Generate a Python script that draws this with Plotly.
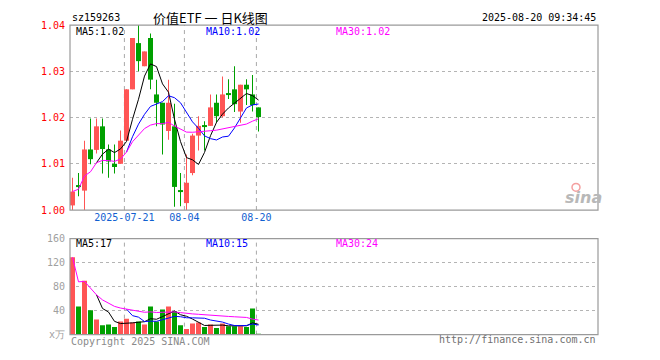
import plotly.graph_objects as go

# ---------------- data ----------------
dates = ["2025-07-08", "2025-07-09", "2025-07-10", "2025-07-11", "2025-07-14",
         "2025-07-15", "2025-07-16", "2025-07-17", "2025-07-18", "2025-07-21",
         "2025-07-22", "2025-07-23", "2025-07-24", "2025-07-25", "2025-07-28",
         "2025-07-29", "2025-07-30", "2025-07-31", "2025-08-01", "2025-08-04",
         "2025-08-05", "2025-08-06", "2025-08-07", "2025-08-08", "2025-08-11",
         "2025-08-12", "2025-08-13", "2025-08-14", "2025-08-15", "2025-08-18",
         "2025-08-19", "2025-08-20"]
opens = [1.0010, 1.0052, 1.0042, 1.0131, 1.0130, 1.0181, 1.0131, 1.0100,
         1.0100, 1.0150, 1.0261, 1.0361, 1.0311, 1.0372, 1.0250, 1.0232,
         1.0171, 1.0181, 1.0043, 1.0015, 1.0080, 1.0161, 1.0182, 1.0182,
         1.0232, 1.0203, 1.0251, 1.0261, 1.0213, 1.0271, 1.0250, 1.0222]
closes = [1.0040, 1.0050, 1.0131, 1.0110, 1.0181, 1.0132, 1.0105, 1.0093,
          1.0150, 1.0261, 1.0372, 1.0322, 1.0343, 1.0282, 1.0232, 1.0185,
          1.0232, 1.0050, 1.0041, 1.0059, 1.0161, 1.0182, 1.0180, 1.0222,
          1.0203, 1.0250, 1.0249, 1.0229, 1.0271, 1.0261, 1.0227, 1.0201]
highs = [1.0070, 1.0080, 1.0150, 1.0198, 1.0198, 1.0198, 1.0142, 1.0142,
         1.0172, 1.0261, 1.0372, 1.0401, 1.0343, 1.0382, 1.0282, 1.0232,
         1.0282, 1.0230, 1.0080, 1.0120, 1.0165, 1.0203, 1.0192, 1.0250,
         1.0250, 1.0289, 1.0283, 1.0311, 1.0271, 1.0283, 1.0292, 1.0222]
lows = [1.0000, 1.0030, 1.0000, 1.0099, 1.0122, 1.0079, 1.0070, 1.0079,
        1.0100, 1.0150, 1.0261, 1.0300, 1.0311, 1.0261, 1.0181, 1.0120,
        1.0152, 1.0007, 1.0008, 1.0000, 1.0075, 1.0129, 1.0129, 1.0182,
        1.0189, 1.0200, 1.0240, 1.0212, 1.0189, 1.0227, 1.0213, 1.0170]
volumes = [129, 47, 90, 40.5, 25, 15.6, 17, 12.5, 22, 26.5, 20, 22, 17, 47,
           22, 42, 47, 39, 15.6, 9.4, 18.7, 20, 12.5, 17, 11, 18.7, 14, 14,
           14, 12.5, 43.6, 1.6]
marked_dates = ["2025-07-21", "2025-08-04", "2025-08-20"]
marked_labels = ["2025-07-21", "08-04", "08-20"]
price_ticks = [1.00, 1.01, 1.02, 1.03, 1.04]
vol_ticks = [0, 40, 80, 120, 160]
vol_tick_text = ["x万", "40", "80", "120", "160"]
code_text = "sz159263"
title_text = "价值ETF 一 日K线图"
time_text = "2025-08-20 09:34:45"
price_ma_text = ["MA5:1.02", "MA10:1.02", "MA30:1.02"]
vol_ma_text = ["MA5:17", "MA10:15", "MA30:24"]

# ---------------- helpers ----------------
W, H = 660, 360
RED = "#ff5555"
GREEN = "#00a000"
MONO = "DejaVu Sans Mono"


def px(x):
    return x / W


def py(y):
    return 1 - y / H


def mov(vals, w, expanding=False):
    out = []
    for i in range(len(vals)):
        if i < w - 1:
            out.append(sum(vals[:i + 1]) / (i + 1) if expanding else None)
        else:
            out.append(sum(vals[i - w + 1:i + 1]) / w)
    return out


n = len(dates)
idx = list(range(n))
colors = [RED if c >= o else GREEN for o, c in zip(opens, closes)]
min_body = 0.00021
body_base = [min(o, c) for o, c in zip(opens, closes)]
body_h = [max(abs(c - o), min_body) for o, c in zip(opens, closes)]
wick_h = [max(h - l, min_body) for h, l in zip(highs, lows)]

slot = 6.0  # pixels per candle
x0 = -2.5 / slot
xr = [x0, x0 + (598 - 70) / slot]

fig = go.Figure()
# price: wicks, bodies
fig.add_trace(go.Bar(x=idx, y=wick_h, base=lows, width=1 / slot, marker_color=colors,
                     marker_line_width=0, xaxis="x", yaxis="y", hoverinfo="skip"))
fig.add_trace(go.Bar(x=idx, y=body_h, base=body_base, width=5 / slot, marker_color=colors,
                     marker_line_width=0, xaxis="x", yaxis="y"))
for vals, col in [(mov(closes, 5), "black"), (mov(closes, 10), "#0000ff"),
                  (mov(closes, 30, expanding=True), "#ff00ff")]:
    fig.add_trace(go.Scatter(x=idx, y=vals, mode="lines", line=dict(color=col, width=1),
                             xaxis="x", yaxis="y"))
# volume
fig.add_trace(go.Bar(x=idx, y=volumes, width=5 / slot, marker_color=colors,
                     marker_line_width=0, xaxis="x2", yaxis="y2"))
for vals, col in [(mov(volumes, 5), "black"), (mov(volumes, 10), "#0000ff"),
                  (mov(volumes, 30, expanding=True), "#ff00ff")]:
    fig.add_trace(go.Scatter(x=idx, y=vals, mode="lines", line=dict(color=col, width=1),
                             xaxis="x2", yaxis="y2"))

mark_x = [dates.index(d) - 0.35 for d in marked_dates]

shapes = []
for yr in ["y domain", "y2 domain"]:
    for mx in mark_x:
        shapes.append(dict(type="line", xref="x", yref=yr, x0=mx, x1=mx, y0=0, y1=1,
                           line=dict(color="#a8a8a8", width=1, dash="4px,4px"), layer="below"))
    shapes.append(dict(type="rect", xref="x domain", yref=yr, x0=0, x1=1, y0=0, y1=1,
                       line=dict(color="#9a9a9a", width=1.2)))
# sina logo eye
shapes.append(dict(type="circle", xref="paper", yref="paper",
                   x0=px(572), x1=px(580), y0=py(192), y1=py(184),
                   line=dict(color="#f4a0a0", width=1.5)))

ann = []


def text(x, y, s, color="black", size=10, xanchor="left", family=MONO, **kw):
    ann.append(dict(x=px(x), y=py(y), xref="paper", yref="paper", text=s, showarrow=False,
                    xanchor=xanchor, yanchor="middle",
                    font=dict(family=family, size=size, color=color, **kw)))


text(70, 13, code_text)
text(210, 13, title_text, size=13, xanchor="center", family="Noto Sans CJK SC")
text(598, 13, time_text, xanchor="right")
ma_cols = ["black", "#0000ff", "#ff00ff"]
for xs, t, c in zip([74, 204, 334], price_ma_text, ma_cols):
    text(xs, 27, t, color=c)
for xs, t, c in zip([74, 204, 334], vol_ma_text, ma_cols):
    text(xs, 246, t, color=c)
text(69, 347, "Copyright 2025 SINA.COM", color="#8a8a8a")
text(598, 345, "http://finance.sina.com.cn", color="#707070", xanchor="right")
text(583, 199, "sina", color="#b8b8b8", size=16, xanchor="center",
     family="DejaVu Sans", weight="bold", style="italic")

fig.update_layout(
    width=W, height=H, margin=dict(l=0, r=0, t=0, b=0),
    paper_bgcolor="white", plot_bgcolor="white",
    showlegend=False, barmode="overlay", shapes=shapes, annotations=ann,
    xaxis=dict(domain=[px(70), px(598)], range=xr, anchor="y",
               tickvals=mark_x, ticktext=marked_labels, showgrid=False, zeroline=False,
               showline=False, ticks="",
               tickfont=dict(family=MONO, size=10, color="#1060d0")),
    xaxis2=dict(domain=[px(70), px(598)], range=xr, anchor="y2", matches="x",
                showticklabels=False, showgrid=False, zeroline=False, ticks=""),
    yaxis=dict(domain=[py(211.5), py(20.7)], range=[price_ticks[0], price_ticks[-1]],
               anchor="x", tickvals=price_ticks,
               ticktext=["%.2f" % v for v in price_ticks],
               showgrid=True, gridcolor="#b4b4b4", griddash="dot", gridwidth=1,
               zeroline=False, ticks="", ticklabelstandoff=4,
               tickfont=dict(family=MONO, size=10, color="#ff0000")),
    yaxis2=dict(domain=[py(340), py(241)], range=[vol_ticks[0], vol_ticks[-1]],
                anchor="x2", tickvals=vol_ticks, ticktext=vol_tick_text,
                showgrid=True, gridcolor="#b4b4b4", griddash="dot", gridwidth=1,
                zeroline=False, ticks="", ticklabelstandoff=4,
                tickfont=dict(family=MONO, size=10, color="#a0a0a0")),
)

fig.write_html("out.html")
